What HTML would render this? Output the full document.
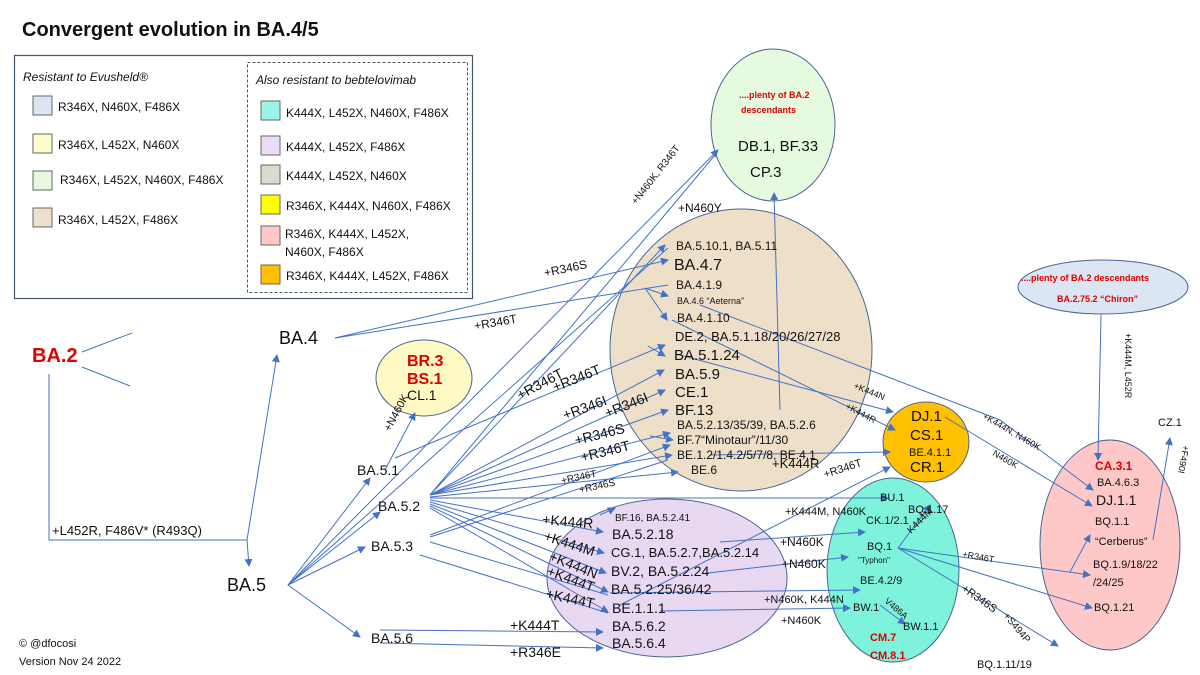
<!DOCTYPE html>
<html><head><meta charset="utf-8"><style>
body{margin:0;background:#fff}
svg{display:block}
text{font-family:"Liberation Sans","DejaVu Sans",sans-serif;fill:#111}
.r{fill:#e00000;font-weight:bold}
</style></head><body>
<svg width="1200" height="675" viewBox="0 0 1200 675" xmlns="http://www.w3.org/2000/svg">
<defs><marker id="a" markerWidth="8" markerHeight="8" refX="7" refY="4" orient="auto" markerUnits="userSpaceOnUse"><path d="M0,0 L8,4 L0,8z" fill="#4472c4"/></marker></defs>
<text x="22" y="36" font-size="20" font-weight="bold">Convergent evolution in BA.4/5</text>
<!-- legend -->
<rect x="14.5" y="55.5" width="458" height="243" fill="#fff" stroke="#44546a" stroke-width="1.2"/>
<rect x="247.5" y="62.5" width="220" height="230" fill="none" stroke="#555" stroke-dasharray="3,2"/>
<g font-size="12">
<text x="23" y="81" font-style="italic">Resistant to Evusheld®</text>
<text x="256" y="84" font-style="italic">Also resistant to bebtelovimab</text>
<rect x="33" y="96" width="19" height="19" fill="#dce6f2" stroke="#666"/><text x="58" y="111">R346X, N460X, F486X</text>
<rect x="33" y="134" width="19" height="19" fill="#fffccc" stroke="#666"/><text x="58" y="149">R346X, L452X, N460X</text>
<rect x="33" y="171" width="19" height="19" fill="#e6f9e0" stroke="#666"/><text x="60" y="184">R346X, L452X, N460X, F486X</text>
<rect x="33" y="208" width="19" height="19" fill="#eee0cc" stroke="#666"/><text x="58" y="224">R346X, L452X, F486X</text>
<rect x="261" y="101" width="19" height="19" fill="#99f5e6" stroke="#666"/><text x="286" y="117">K444X, L452X, N460X, F486X</text>
<rect x="261" y="136" width="19" height="19" fill="#eadcf5" stroke="#666"/><text x="286" y="151">K444X, L452X, F486X</text>
<rect x="261" y="165" width="19" height="19" fill="#d6ddd0" stroke="#666"/><text x="286" y="180">K444X, L452X, N460X</text>
<rect x="261" y="195" width="19" height="19" fill="#ffff00" stroke="#666"/><text x="286" y="210">R346X, K444X, N460X, F486X</text>
<rect x="261" y="226" width="19" height="19" fill="#ffc8c8" stroke="#666"/><text x="285" y="238">R346X, K444X, L452X,</text><text x="285" y="256">N460X, F486X</text>
<rect x="261" y="265" width="19" height="19" fill="#ffc000" stroke="#666"/><text x="286" y="280">R346X, K444X, L452X, F486X</text>
</g>
<!-- ellipses -->
<g stroke="#4a6590" stroke-width="1">
<ellipse cx="773" cy="125" rx="62" ry="76" fill="#e6fae0"/>
<ellipse cx="741" cy="350" rx="131" ry="141" fill="#eee0c8"/>
<ellipse cx="424" cy="378" rx="48" ry="38" fill="#fff9c4"/>
<ellipse cx="667" cy="578" rx="120" ry="79" fill="#e8d8f2"/>
<ellipse cx="893" cy="570" rx="66" ry="92" fill="#7ff2dc"/>
<ellipse cx="926" cy="442" rx="43" ry="40" fill="#ffc000"/>
<ellipse cx="1110" cy="545" rx="70" ry="105" fill="#ffc8c8"/>
<ellipse cx="1103" cy="287" rx="85" ry="27" fill="#dce6f2"/>
</g>
<!-- connectors -->
<g stroke="#4472c4" stroke-width="1" fill="none">
<path d="M82,352 L132,333 M82,367 L130,386"/>
<path d="M49,374 V540 H247"/>
<path d="M247,540 L277,355" marker-end="url(#a)"/>
<path d="M247,540 L249,566" marker-end="url(#a)"/>
<path d="M288,585 L370,478" marker-end="url(#a)"/>
<path d="M288,585 L380,512" marker-end="url(#a)"/>
<path d="M288,585 L365,547" marker-end="url(#a)"/>
<path d="M288,585 L360,637" marker-end="url(#a)"/>
<path d="M288,585 L718,150" marker-end="url(#a)"/>
<path d="M288,585 L668,248"/>
<path d="M385,470 L415,413" marker-end="url(#a)"/>
<path d="M395,458 L665,345" marker-end="url(#a)"/>
<path d="M335,338 L668,260" marker-end="url(#a)"/>
<path d="M335,338 L668,285"/>
<path d="M645,288 L667,320" marker-end="url(#a)"/>
<path d="M645,288 L668,296" marker-end="url(#a)"/>
<path d="M648,346 L665,356" marker-end="url(#a)"/>
<path d="M430,495 L665,245" marker-end="url(#a)"/>
<path d="M430,495 L715,155"/>
<path d="M430,495 L664,370" marker-end="url(#a)"/>
<path d="M430,495 L665,390" marker-end="url(#a)"/>
<path d="M430,495 L668,410" marker-end="url(#a)"/>
<path d="M430,495 L670,433" marker-end="url(#a)"/>
<path d="M430,495 L672,455" marker-end="url(#a)"/>
<path d="M430,497 L678,472" marker-end="url(#a)"/>
<path d="M430,498 L888,498" marker-end="url(#a)"/>
<path d="M430,500 L603,532" marker-end="url(#a)"/>
<path d="M430,502 L604,553" marker-end="url(#a)"/>
<path d="M430,504 L606,573" marker-end="url(#a)"/>
<path d="M430,506 L608,592" marker-end="url(#a)"/>
<path d="M430,508 L608,612" marker-end="url(#a)"/>
<path d="M430,535 L670,445" marker-end="url(#a)"/>
<path d="M430,537 L668,460"/>
<path d="M430,542 L608,595"/>
<path d="M420,555 L608,613"/>
<path d="M650,436 L673,440" marker-end="url(#a)"/>
<path d="M600,515 L615,508" marker-end="url(#a)"/>
<path d="M380,630 L603,632" marker-end="url(#a)"/>
<path d="M380,643 L603,648" marker-end="url(#a)"/>
<path d="M780,410 L774,193" marker-end="url(#a)"/>
<path d="M700,305 L1000,420 L1093,490" marker-end="url(#a)"/>
<path d="M672,320 L895,430" marker-end="url(#a)"/>
<path d="M676,354 L893,412" marker-end="url(#a)"/>
<path d="M710,455 L890,452" marker-end="url(#a)"/>
<path d="M620,605 L890,467" marker-end="url(#a)"/>
<path d="M945,417 L1092,506" marker-end="url(#a)"/>
<path d="M1101,315 L1098,460" marker-end="url(#a)"/>
<path d="M1153,540 L1170,438" marker-end="url(#a)"/>
<path d="M720,542 L865,532" marker-end="url(#a)"/>
<path d="M708,573 L848,557" marker-end="url(#a)"/>
<path d="M610,593 L860,590" marker-end="url(#a)"/>
<path d="M660,611 L850,608" marker-end="url(#a)"/>
<path d="M880,605 L905,624" marker-end="url(#a)"/>
<path d="M898,548 L930,505" marker-end="url(#a)"/>
<path d="M898,548 L1090,575" marker-end="url(#a)"/>
<path d="M1070,572 L1090,535" marker-end="url(#a)"/>
<path d="M898,548 L1092,608" marker-end="url(#a)"/>
<path d="M898,548 L1058,646" marker-end="url(#a)"/>
</g>
<!-- main labels -->
<text x="32" y="362" font-size="20" class="r">BA.2</text>
<text x="279" y="344" font-size="18">BA.4</text>
<text x="227" y="591" font-size="18">BA.5</text>
<text x="52" y="535" font-size="13">+L452R, F486V* (R493Q)</text>
<g font-size="14">
<text x="357" y="475">BA.5.1</text>
<text x="378" y="511">BA.5.2</text>
<text x="371" y="551">BA.5.3</text>
<text x="371" y="643">BA.5.6</text>
</g>
<!-- mutation labels -->
<g font-size="12">
<text x="545" y="277" transform="rotate(-12 545 277)">+R346S</text>
<text x="475" y="330" transform="rotate(-10 475 330)">+R346T</text>
<text x="678" y="212">+N460Y</text>
<text x="636" y="205" font-size="10" transform="rotate(-52 636 205)">+N460K, R346T</text>
<text x="390" y="432" font-size="11" transform="rotate(-62 390 432)">+N460K</text>
<text x="520" y="400" font-size="14" transform="rotate(-28 520 400)">+R346T</text>
<text x="555" y="392" font-size="14" transform="rotate(-22 555 392)">+R346T</text>
<text x="565" y="420" font-size="14" transform="rotate(-20 565 420)">+R346I</text>
<text x="607" y="418" font-size="14" transform="rotate(-22 607 418)">+R346I</text>
<text x="576" y="445" font-size="14" transform="rotate(-14 576 445)">+R346S</text>
<text x="582" y="462" font-size="14" transform="rotate(-14 582 462)">+R346T</text>
<text x="562" y="484" font-size="10" transform="rotate(-12 562 484)">+R346T</text>
<text x="580" y="493" font-size="10" transform="rotate(-12 580 493)">+R346S</text>
<text x="542" y="524" font-size="14" transform="rotate(5 542 524)">+K444R</text>
<text x="543" y="540" font-size="14" transform="rotate(18 543 540)">+K444M</text>
<text x="548" y="560" font-size="14" transform="rotate(22 548 560)">+K444N</text>
<text x="546" y="575" font-size="14" transform="rotate(20 546 575)">+K444T</text>
<text x="545" y="598" font-size="14" transform="rotate(12 545 598)">+K444T</text>
<text x="510" y="630" font-size="14">+K444T</text>
<text x="510" y="657" font-size="14">+R346E</text>
<text x="785" y="515" font-size="11">+K444M,  N460K</text>
<text x="780" y="546" font-size="12">+N460K</text>
<text x="782" y="568" font-size="12">+N460K</text>
<text x="764" y="603" font-size="11">+N460K, K444N</text>
<text x="781" y="624" font-size="11">+N460K</text>
<text x="825" y="478" font-size="11" transform="rotate(-18 825 478)">+R346T</text>
<text x="772" y="468" font-size="13">+K444R</text>
<text x="853" y="388" font-size="9" transform="rotate(22 853 388)">+K444N</text>
<text x="845" y="408" font-size="9" transform="rotate(28 845 408)">+K444R</text>
<text x="982" y="418" font-size="9" transform="rotate(30 982 418)">+K444N, N460K</text>
<text x="992" y="455" font-size="9" transform="rotate(30 992 455)">N460K</text>
<text x="1125" y="333" font-size="9" transform="rotate(90 1125 333)">+K444M, L452R</text>
<text x="1183" y="445" font-size="9" transform="rotate(100 1183 445)">+F490I</text>
<text x="911" y="534" font-size="10" transform="rotate(-45 911 534)">K444M</text>
<text x="962" y="557" font-size="9" transform="rotate(10 962 557)">+R346T</text>
<text x="961" y="590" font-size="11" transform="rotate(35 961 590)">+R346S</text>
<text x="1003" y="616" font-size="10" transform="rotate(50 1003 616)">+S494P</text>
<text x="884" y="602" font-size="9" transform="rotate(40 884 602)">V486A</text>
</g>
<!-- yellow -->
<text x="407" y="366" font-size="16" class="r">BR.3</text>
<text x="407" y="384" font-size="16" class="r">BS.1</text>
<text x="407" y="400" font-size="14">CL.1</text>
<!-- green -->
<text x="739" y="98" font-size="9" class="r">....plenty of BA.2</text>
<text x="741" y="113" font-size="9" class="r">descendants</text>
<text x="738" y="151" font-size="15">DB.1, BF.33</text>
<text x="750" y="177" font-size="15">CP.3</text>
<!-- tan -->
<g>
<text x="676" y="250" font-size="12">BA.5.10.1, BA.5.11</text>
<text x="674" y="270" font-size="16">BA.4.7</text>
<text x="676" y="289" font-size="12">BA.4.1.9</text>
<text x="677" y="304" font-size="9">BA.4.6 “Aeterna”</text>
<text x="677" y="322" font-size="12">BA.4.1.10</text>
<text x="675" y="341" font-size="13">DE.2, BA.5.1.18/20/26/27/28</text>
<text x="674" y="360" font-size="15">BA.5.1.24</text>
<text x="675" y="379" font-size="15">BA.5.9</text>
<text x="675" y="397" font-size="15">CE.1</text>
<text x="675" y="415" font-size="15">BF.13</text>
<text x="677" y="429" font-size="12">BA.5.2.13/35/39,  BA.5.2.6</text>
<text x="677" y="444" font-size="12">BF.7“Minotaur”/11/30</text>
<text x="677" y="459" font-size="12">BE.1.2/1.4.2/5/7/8,  BE.4.1</text>
<text x="691" y="474" font-size="12">BE.6</text>
</g>
<!-- orange -->
<text x="911" y="421" font-size="15">DJ.1</text>
<text x="910" y="440" font-size="15">CS.1</text>
<text x="909" y="456" font-size="11">BE.4.1.1</text>
<text x="910" y="472" font-size="15">CR.1</text>
<!-- chiron -->
<text x="1021" y="281" font-size="9" class="r">....plenty of BA.2 descendants</text>
<text x="1057" y="302" font-size="9" class="r">BA.2.75.2 “Chiron”</text>
<!-- pink -->
<text x="1095" y="470" font-size="12" class="r">CA.3.1</text>
<text x="1097" y="486" font-size="11">BA.4.6.3</text>
<text x="1096" y="505" font-size="14">DJ.1.1</text>
<text x="1095" y="525" font-size="11">BQ.1.1</text>
<text x="1095" y="545" font-size="11">“Cerberus”</text>
<text x="1093" y="568" font-size="11">BQ.1.9/18/22</text>
<text x="1093" y="586" font-size="11">/24/25</text>
<text x="1094" y="611" font-size="11">BQ.1.21</text>
<text x="1158" y="426" font-size="11">CZ.1</text>
<!-- aqua -->
<g font-size="11">
<text x="880" y="501">BU.1</text>
<text x="908" y="513">BQ.1.17</text>
<text x="866" y="524">CK.1/2.1</text>
<text x="867" y="550">BQ.1</text>
<text x="858" y="563" font-size="8">"Typhon"</text>
<text x="860" y="584">BE.4.2/9</text>
<text x="853" y="611">BW.1</text>
<text x="903" y="630">BW.1.1</text>
<text x="870" y="641" class="r">CM.7</text>
<text x="870" y="659" class="r">CM.8.1</text>
<text x="977" y="668">BQ.1.11/19</text>
</g>
<!-- lavender -->
<text x="615" y="521" font-size="10">BF.16, BA.5.2.41</text>
<text x="612" y="539" font-size="14">BA.5.2.18</text>
<text x="611" y="557" font-size="13">CG.1, BA.5.2.7,BA.5.2.14</text>
<text x="611" y="576" font-size="14">BV.2, BA.5.2.24</text>
<text x="611" y="594" font-size="14">BA.5.2.25/36/42</text>
<text x="612" y="613" font-size="14">BE.1.1.1</text>
<text x="612" y="631" font-size="14">BA.5.6.2</text>
<text x="612" y="648" font-size="14">BA.5.6.4</text>
<!-- footer -->
<text x="19" y="647" font-size="11">©  @dfocosi</text>
<text x="19" y="665" font-size="11">Version Nov 24 2022</text>
</svg>
</body></html>
